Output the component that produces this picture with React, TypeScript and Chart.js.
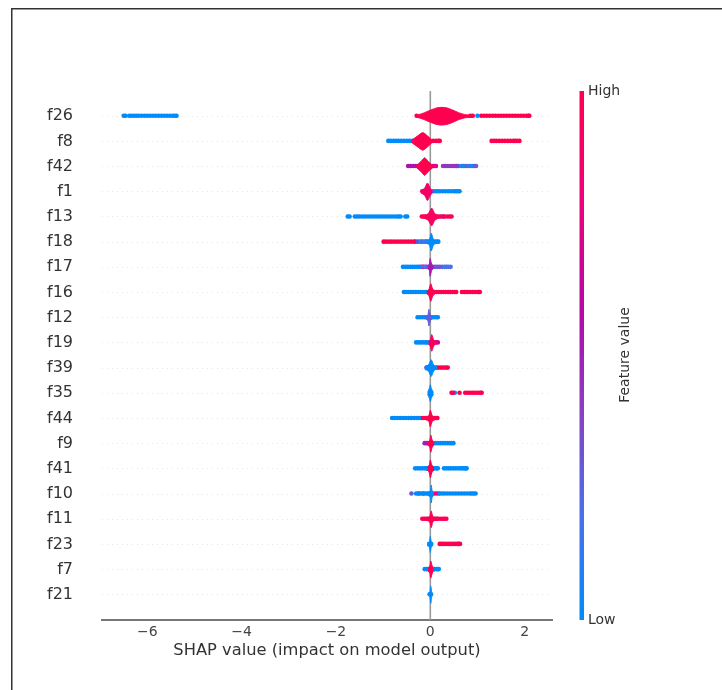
import React, { useEffect, useRef } from "react";
import { Chart, registerables } from "chart.js";

Chart.register(...registerables);

const features = ["f26","f8","f42","f1","f13","f18","f17","f16","f12","f19","f39","f35","f44","f9","f41","f10","f11","f23","f7","f21"];
const xTicks = [-6, -4, -2, 0, 2];
const xTitle = "SHAP value (impact on model output)";
const colorbarTitle = "Feature value";
const colorbarHigh = "High";
const colorbarLow = "Low";
const colorStops: [number, string][] = [[0, "#008bfb"], [0.2, "#4a70ec"], [0.4, "#8a3fc0"], [0.58, "#b408a8"], [0.8, "#f00078"], [1, "#ff0051"]];

type Strip = [number, number[]];
type Violin = [number, [number, number][]];

// Each strip: [feature value 0..1, SHAP values]
const stripsF26: Strip[] = [
  [0, [-6.5,-6.46,-6.38,-6.33,-6.28,-6.23,-6.18,-6.12,-6.06,-6,-5.94,-5.88,-5.82,-5.76,-5.7,-5.64,-5.58,-5.52,-5.46,-5.42,-5.38, 1.0]],
  [1, [-0.29,0.85,0.9,1.08,1.14,1.2,1.26,1.32,1.38,1.44,1.5,1.56,1.62,1.68,1.74,1.8,1.86,1.92,1.98,2.04,2.08,2.1]],
];
const stripsF8: Strip[] = [
  [0, [-0.89,-0.84,-0.78,-0.73,-0.68,-0.62,-0.56,-0.5,-0.44,-0.38]],
  [1, [0.06,0.12,0.17,0.2,1.3,1.35,1.4,1.46,1.52,1.58,1.64,1.7,1.76,1.8,1.84,1.89]],
];
const stripsF42: Strip[] = [
  [0.55, [-0.47,-0.42,-0.36,-0.31,-0.27]],
  [0.75, [0.06,0.09,0.12]],
  [0.42, [0.27,0.32,0.37,0.42,0.47,0.52,0.56]],
  [0.08, [0.55,0.6,0.66,0.7,0.82,0.86]],
  [0.3, [0.74,0.78,0.9,0.94,0.97]],
];
const stripsF1: Strip[] = [
  [0.85, [-0.17,-0.13]],
  [0, [0.05,0.1,0.15,0.2,0.26,0.32,0.38,0.44,0.5,0.54,0.58,0.62]],
];
const stripsF13: Strip[] = [
  [0, [-1.75,-1.71,-1.6,-1.55,-1.5,-1.44,-1.38,-1.32,-1.26,-1.2,-1.14,-1.08,-1.02,-0.96,-0.9,-0.84,-0.78,-0.72,-0.67,-0.63,-0.53,-0.49]],
  [1, [-0.18,-0.14,-0.1,0.1,0.15,0.2,0.3,0.36,0.41,0.45]],
  [0.6, [0.24,0.28]],
];
const stripsF18: Strip[] = [
  [1, [-0.99,-0.94,-0.88,-0.82,-0.76,-0.7,-0.64,-0.58,-0.52,-0.46,-0.4,-0.34]],
  [0.15, [-0.32,-0.22,-0.14,-0.07]],
  [0.5, [-0.27,-0.18,-0.1]],
  [0, [-0.04,0.05,0.1,0.14,0.17]],
];
const stripsF17: Strip[] = [
  [0, [-0.58,-0.53,-0.48,-0.43,-0.38,-0.33,-0.28,-0.24]],
  [0.2, [-0.2,-0.11,-0.04]],
  [0.9, [-0.17,-0.14,-0.08]],
  [0.3, [0.05,0.1,0.15,0.2]],
  [0.2, [0.25,0.3,0.34,0.38,0.43]],
];
const stripsF16: Strip[] = [
  [0, [-0.56,-0.51,-0.46,-0.41,-0.36,-0.31,-0.26,-0.21,-0.16,-0.11,-0.07]],
  [1, [0.08,0.13,0.18,0.23,0.28,0.33,0.38,0.43,0.48,0.52,0.55,0.67,0.72,0.76,0.8,0.85,0.9,0.95,1.0,1.03,1.05]],
];
const stripsF12: Strip[] = [
  [0, [-0.27,-0.22,-0.17,-0.12,-0.08,0.05,0.09,0.13,0.16]],
  [0.25, [-0.06,0.02]],
];
const stripsF19: Strip[] = [
  [0, [-0.3,-0.25,-0.2,-0.15,-0.1,-0.07,0.0]],
  [0.9, [-0.02,0.06,0.09]],
  [0.65, [0.12,0.16]],
];
const stripsF39: Strip[] = [
  [0.4, [-0.08,-0.05]],
  [0, [-0.06,0.06,0.1]],
  [1, [0.13,0.18,0.23,0.28,0.33,0.37]],
];
const stripsF35: Strip[] = [
  [1, [0.45,0.48,0.62,0.74,0.79,0.84,0.89,0.94,0.99,1.04,1.07,1.09]],
  [0, [0.52]],
];
const stripsF44: Strip[] = [
  [0, [-0.81,-0.76,-0.7,-0.64,-0.58,-0.52,-0.46,-0.4,-0.34,-0.28,-0.24]],
  [1, [-0.19,-0.14,-0.09,-0.04,0.05,0.09,0.12,0.15]],
];
const stripsF9: Strip[] = [
  [0.5, [-0.12,-0.08,-0.05]],
  [0, [0.06,0.11,0.16,0.21,0.26,0.31,0.36,0.41,0.45,0.49]],
];
const stripsF41: Strip[] = [
  [0, [-0.32,-0.27,-0.22,-0.17,-0.12,-0.08,-0.05,0.05,0.09,0.13,0.16,0.29,0.34,0.39,0.44,0.49,0.54,0.59,0.64,0.68,0.72,0.75,0.77]],
  [0.9, [-0.07,0.03]],
];
const stripsF10: Strip[] = [
  [0.3, [-0.4]],
  [0, [-0.3,-0.25,-0.2,-0.15,-0.1,-0.06,-0.03,0.2,0.25,0.3,0.36,0.42,0.48,0.54,0.6,0.66,0.72,0.78,0.84,0.88,0.92,0.96]],
  [0.45, [-0.25,-0.15]],
  [0.8, [0.07,0.12,0.17]],
];
const stripsF11: Strip[] = [
  [1, [-0.17,-0.13,-0.09,0.06,0.11,0.16,0.21,0.26,0.3,0.34]],
  [0.55, [-0.06,-0.02,0.08,0.14]],
];
const stripsF23: Strip[] = [
  [1, [0.2,0.24,0.28,0.33,0.38,0.43,0.48,0.53,0.57,0.6,0.63]],
  [0, [-0.02,0.02]],
];
const stripsF7: Strip[] = [
  [0, [-0.12,-0.08,-0.05,0.09,0.13,0.16,0.18]],
  [1, [-0.03,0.05,0.08]],
];
const stripsF21: Strip[] = [
  [0, [-0.015,0.0,0.015]],
];
const stripTable: Strip[][] = [stripsF26,stripsF8,stripsF42,stripsF1,stripsF13,stripsF18,stripsF17,stripsF16,stripsF12,stripsF19,stripsF39,stripsF35,stripsF44,stripsF9,stripsF41,stripsF10,stripsF11,stripsF23,stripsF7,stripsF21];

// Each body: [feature value, [SHAP value, half height in rows]]
const bodyF26: Violin = [1, [[-0.3,0.03],[-0.15,0.12],[0.0,0.24],[0.12,0.32],[0.22,0.35],[0.35,0.33],[0.48,0.24],[0.6,0.14],[0.72,0.07],[0.85,0.04],[0.93,0.02]]];
const bodyF8: Violin = [1, [[-0.4,0.04],[-0.28,0.2],[-0.16,0.35],[-0.06,0.22],[0.04,0.04]]];
const bodyF42: Violin = [1, [[-0.3,0.03],[-0.2,0.2],[-0.12,0.35],[-0.04,0.2],[0.06,0.03]]];
const bodyF1: Violin = [0.88, [[-0.2,0.04],[-0.12,0.14],[-0.06,0.35],[0.0,0.14],[0.05,0.03]]];
const bodyF13: Violin = [0.93, [[-0.17,0.03],[-0.05,0.12],[0.03,0.35],[0.1,0.12],[0.2,0.03]]];
const bodyF18: Violin = [0, [[-0.08,0.05],[-0.02,0.1],[0.02,0.35],[0.07,0.1],[0.14,0.04]]];
const bodyF17: Violin = [0.53, [[-0.06,0.05],[-0.02,0.12],[-0.005,0.35],[0.03,0.12],[0.07,0.04]]];
const bodyF16: Violin = [1, [[-0.08,0.04],[-0.03,0.12],[0.01,0.35],[0.05,0.14],[0.1,0.04]]];
const bodyF12: Violin = [0.28, [[-0.09,0.05],[-0.05,0.12],[-0.03,0.33],[0.0,0.12],[0.04,0.04]]];
const bodyF19: Violin = [0.95, [[-0.04,0.05],[0.0,0.12],[0.03,0.33],[0.07,0.12],[0.11,0.04]]];
const bodyF39: Violin = [0, [[-0.12,0.05],[-0.04,0.12],[0.02,0.33],[0.07,0.12],[0.12,0.04]]];
const bodyF35: Violin = [0, [[-0.06,0.03],[-0.02,0.2],[0.0,0.34],[0.02,0.2],[0.07,0.03]]];
const bodyF44: Violin = [1, [[-0.09,0.05],[-0.03,0.12],[0.0,0.33],[0.04,0.12],[0.1,0.04]]];
const bodyF9: Violin = [1, [[-0.05,0.05],[-0.01,0.14],[0.01,0.34],[0.04,0.14],[0.08,0.04]]];
const bodyF41: Violin = [1, [[-0.06,0.05],[-0.02,0.16],[0.0,0.35],[0.03,0.16],[0.08,0.04]]];
const bodyF10: Violin = [0, [[-0.05,0.05],[0.0,0.12],[0.02,0.35],[0.04,0.12],[0.08,0.04]]];
const bodyF11: Violin = [1, [[-0.06,0.05],[-0.01,0.12],[0.02,0.33],[0.05,0.12],[0.09,0.04]]];
const bodyF23: Violin = [0, [[-0.07,0.04],[-0.02,0.1],[0.0,0.32],[0.02,0.1],[0.06,0.04]]];
const bodyF7: Violin = [1, [[-0.05,0.05],[-0.01,0.14],[0.01,0.34],[0.04,0.14],[0.07,0.04]]];
const bodyF21: Violin = [0, [[-0.03,0.03],[-0.01,0.08],[0.01,0.34],[0.03,0.08],[0.04,0.03]]];
const bodyTable: Violin[] = [bodyF26,bodyF8,bodyF42,bodyF1,bodyF13,bodyF18,bodyF17,bodyF16,bodyF12,bodyF19,bodyF39,bodyF35,bodyF44,bodyF9,bodyF41,bodyF10,bodyF11,bodyF23,bodyF7,bodyF21];

const xMin = -6.96;
const xMax = 2.58;
const yTop = -1;
const yBottom = 20;
const font = "'DejaVu Sans', sans-serif";
const axisColor = "#333333";

function hexRgb(h: string) {
  return [parseInt(h.slice(1, 3), 16), parseInt(h.slice(3, 5), 16), parseInt(h.slice(5, 7), 16)];
}
function colorAt(v: number) {
  for (let i = 1; i < colorStops.length; i++) {
    const [v0, c0] = colorStops[i - 1];
    const [v1, c1] = colorStops[i];
    if (v <= v1) {
      const t = (v - v0) / (v1 - v0);
      const a = hexRgb(c0);
      const b = hexRgb(c1);
      return `rgb(${a.map((k, j) => Math.round(k + (b[j] - k) * t)).join(",")})`;
    }
  }
  return colorStops[colorStops.length - 1][1];
}

const decorPlugin = {
  id: "decor",
  beforeDraw(chart: any) {
    const { ctx } = chart;
    ctx.save();
    ctx.fillStyle = "#ffffff";
    ctx.fillRect(0, 0, 722, 690);
    ctx.fillStyle = "#333333";
    ctx.fillRect(11, 8, 711, 1.5);
    ctx.fillRect(11, 8, 1.5, 682);
    ctx.restore();
  },
  afterDraw(chart: any) {
    const { ctx, chartArea } = chart;
    const x0 = 579.5;
    const w = 4.5;
    const grad = ctx.createLinearGradient(0, chartArea.bottom, 0, chartArea.top);
    colorStops.forEach(([v, c]) => grad.addColorStop(v, c));
    ctx.save();
    ctx.fillStyle = grad;
    ctx.fillRect(x0, chartArea.top, w, chartArea.bottom - chartArea.top);
    ctx.fillStyle = axisColor;
    ctx.font = `14px ${font}`;
    ctx.textBaseline = "middle";
    ctx.textAlign = "left";
    ctx.fillText(colorbarHigh, 588, chartArea.top);
    ctx.fillText(colorbarLow, 588, chartArea.bottom);
    ctx.translate(625, 355);
    ctx.rotate(-Math.PI / 2);
    ctx.textAlign = "center";
    ctx.fillText(colorbarTitle, 0, 0);
    ctx.restore();
  },
};

export default function App() {
  const ref = useRef<HTMLCanvasElement>(null);
  useEffect(() => {
    const datasets: any[] = [];
    datasets.push({
      type: "line",
      data: [{ x: 0, y: yTop }, { x: 0, y: yBottom }],
      borderColor: "#999999",
      borderWidth: 1.6,
      pointRadius: 0,
      order: 100,
    });
    features.forEach((_, row) => {
      stripTable[row].forEach(([v, xs]) => {
        datasets.push({
          type: "scatter",
          data: xs.map((x) => ({ x, y: row - 0.02 })),
          backgroundColor: colorAt(v),
          borderWidth: 0,
          pointRadius: 2.3,
          order: 50,
        });
      });
    });
    features.forEach((_, row) => {
      const [v, profile] = bodyTable[row];
      const c = colorAt(v);
      datasets.push({
        type: "line",
        data: profile.map(([x, h]) => ({ x, y: row - h })),
        borderColor: c,
        borderWidth: 1,
        pointRadius: 0,
        tension: 0.2,
        fill: false,
        order: 10,
      });
      datasets.push({
        type: "line",
        data: profile.map(([x, h]) => ({ x, y: row + h })),
        borderColor: c,
        backgroundColor: c,
        borderWidth: 1,
        pointRadius: 0,
        tension: 0.2,
        fill: "-1",
        order: 10,
      });
    });
    const chart = new Chart(ref.current!, {
      type: "scatter",
      data: { datasets },
      plugins: [decorPlugin],
      options: {
        animation: false,
        responsive: false,
        devicePixelRatio: 1,
        layout: { padding: { top: 91, right: 170, left: 0, bottom: 0 } },
        plugins: { legend: { display: false }, tooltip: { enabled: false }, title: { display: false } },
        scales: {
          x: {
            type: "linear",
            min: xMin,
            max: xMax,
            afterBuildTicks: (s: any) => { s.ticks = xTicks.map((value) => ({ value })); },
            afterFit: (s: any) => { s.height = 70; },
            grid: { display: false, drawTicks: true, tickLength: 4, tickColor: "#555555" },
            border: { color: "#777777", width: 2 },
            ticks: {
              color: "#444444",
              autoSkip: false,
              maxRotation: 0,
              padding: 0,
              font: { family: font, size: 14 },
              callback: (v: any) => String(v).replace("-", "\u2212"),
            },
            title: { display: true, text: xTitle, color: axisColor, padding: { top: 1, bottom: 29 }, font: { family: font, size: 16.3 } },
          },
          y: {
            type: "linear",
            reverse: true,
            min: yTop,
            max: yBottom,
            afterBuildTicks: (s: any) => { s.ticks = features.map((_, value) => ({ value })); },
            afterFit: (s: any) => { s.width = 102; },
            border: { display: false, dash: [1, 4] },
            grid: { color: "#e4e4e4", lineWidth: 1, drawTicks: false },
            ticks: {
              color: axisColor,
              autoSkip: false,
              padding: 29,
              font: { family: font, size: 16 },
              callback: (v: any) => features[v],
            },
          },
        },
      },
    } as any);
    return () => chart.destroy();
  }, []);
  return (
    <div style={{ position: "fixed", left: 0, top: 0, width: 722, height: 690, background: "#fff" }}>
      <canvas ref={ref} width={722} height={690} style={{ display: "block", filter: "blur(0.45px)" }} />
    </div>
  );
}
